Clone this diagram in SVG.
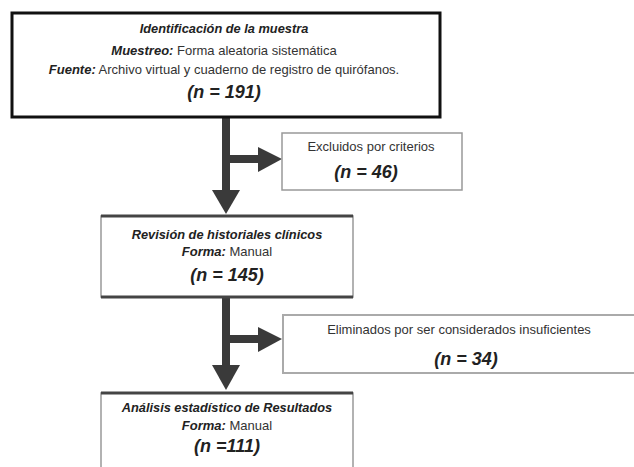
<svg xmlns="http://www.w3.org/2000/svg" width="634" height="467" viewBox="0 0 634 467">
<style>
text{font-family:"Liberation Sans",Arial,sans-serif;fill:#333;text-anchor:middle}
.t{font-size:13px}
.h{font-size:12.8px;font-weight:bold;font-style:italic;fill:#222}
.n{font-size:18px;font-weight:bold;font-style:italic;fill:#222}
.b{font-weight:bold;font-style:italic;fill:#222}
.arr{fill:#3a3a3a}
.thin{fill:#fff;stroke:#999;stroke-width:1.5}
.bar{stroke:#444;stroke-width:3}
</style>
<rect width="634" height="467" fill="#fff"/>
<g id="connectors">
<rect class="arr" x="222" y="117" width="8" height="75"/>
<polygon class="arr" points="212,190 240,190 226,214"/>
<rect class="arr" x="226" y="155" width="34" height="8"/>
<polygon class="arr" points="258,147 258,172 282,159"/>
<rect class="arr" x="222" y="297" width="8" height="70"/>
<polygon class="arr" points="212,365 240,365 226,390"/>
<rect class="arr" x="226" y="335" width="34" height="8"/>
<polygon class="arr" points="258,327 258,352 282,339"/>
</g>
<g id="n1">
<rect x="12" y="13" width="428" height="104" fill="#fff" stroke="#111" stroke-width="3"/>
<text class="h" x="224" y="33">Identificación de la muestra</text>
<text class="t" x="224" y="55"><tspan class="b">Muestreo:</tspan> Forma aleatoria sistemática</text>
<text class="t" x="224" y="74"><tspan class="b">Fuente:</tspan> Archivo virtual y cuaderno de registro de quirófanos.</text>
<text class="n" x="224" y="98">(n = 191)</text>
</g>
<g id="n2">
<rect class="thin" x="282" y="133" width="180" height="57"/>
<text class="t" x="371" y="151">Excluidos por criterios</text>
<text class="n" x="366" y="178">(n = 46)</text>
</g>
<g id="n3">
<rect class="thin" x="101" y="216" width="252" height="81"/>
<line class="bar" x1="101" y1="216" x2="353" y2="216"/>
<line class="bar" x1="101" y1="297" x2="353" y2="297"/>
<text class="h" x="227" y="239">Revisión de historiales clínicos</text>
<text class="t" x="227" y="256"><tspan class="b">Forma:</tspan> Manual</text>
<text class="n" x="227" y="281">(n = 145)</text>
</g>
<g id="n4">
<rect x="283" y="315" width="360" height="58" fill="#fff" stroke="#aaa" stroke-width="2"/>
<text class="t" x="459" y="334">Eliminados por ser considerados insuficientes</text>
<text class="n" x="466" y="365">(n = 34)</text>
</g>
<g id="n5">
<rect class="thin" x="101" y="393" width="252" height="80"/>
<line class="bar" x1="101" y1="393" x2="353" y2="393"/>
<text class="h" x="227" y="412">Análisis estadístico de Resultados</text>
<text class="t" x="227" y="430"><tspan class="b">Forma:</tspan> Manual</text>
<text class="n" x="227" y="452">(n =111)</text>
</g>
</svg>
